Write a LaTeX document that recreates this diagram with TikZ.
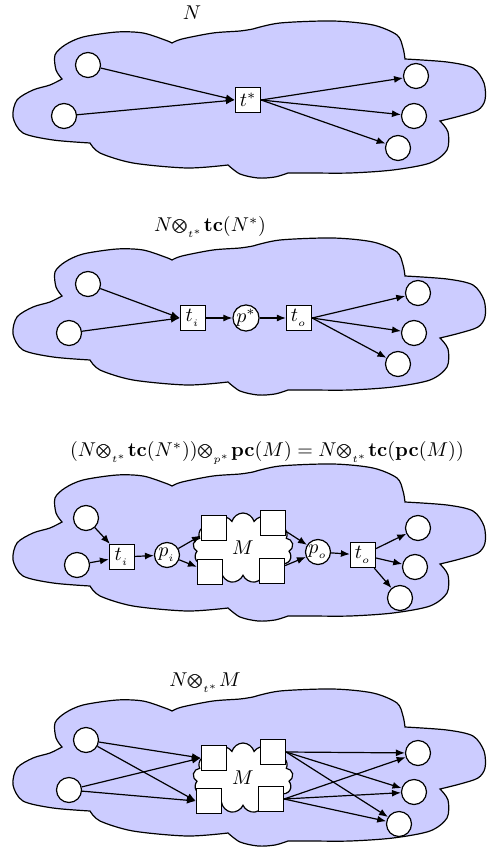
\documentclass[tikz,border=0pt]{standalone}
\usepackage{amsmath,amssymb}
\usepackage{tikz}
\usetikzlibrary{arrows.meta, shapes.symbols, positioning}

% outer net outline, drawn in the current scope
\newcommand{\netcloud}{%
  \filldraw[fill=blue!20]
    plot[smooth] coordinates {(62,79) (56,70) (55,55) (65,45) (83,37) (117,32) (143,33) (165,40) (172,43)}
    -- plot[smooth] coordinates {(172,43) (182,39) (213,33) (240,31) (253,29)}
    -- plot[smooth] coordinates {(253,29) (280,23) (333,21) (373,25) (397,35) (403,48) (405,59)}
    -- plot[smooth] coordinates {(405,59) (447,62) (473,68) (484,83) (485,100) (478,110) (460,116) (440,121)}
    -- plot[smooth] coordinates {(440,121) (448,132) (447,150) (430,163) (393,170) (350,173) (310,173) (288,173)}
    -- plot[smooth] coordinates {(288,173) (275,177) (258,178) (240,174) (228,165)}
    -- plot[smooth] coordinates {(228,165) (187,168) (133,163) (100,153) (90,143)}
    -- plot[smooth] coordinates {(90,143) (53,140) (23,133) (13,117) (17,100) (33,90) (50,85) (62,79)}
    -- cycle;}
\newcommand{\tens}{\mathord{\pmb{\otimes}}}

\begin{document}
\begin{tikzpicture}[x=0.5pt, y=-0.5pt, line width=0.6pt,
  place/.style={circle, draw, fill=white, minimum size=12.5pt, inner sep=0pt},
  trans/.style={rectangle, draw, fill=white, minimum size=12.5pt, inner sep=0pt},
  flow/.style={-{Latex[length=4.5pt, width=3.5pt]}},
  subnet/.style={cloud, draw, fill=white, cloud puffs=13, aspect=1.5, minimum width=50pt, minimum height=35pt, inner sep=0pt}]

\useasboundingbox (0,0) rectangle (491,849);

% N
\node (lblN) at (192,13) {$N$};
\begin{scope}
  \netcloud
  \node[place] (a1) at (88,65) {};
  \node[place] (a2) at (64,116) {};
  \node[trans] (ts) at (248,100) {$t^*$};
  \node[place] (b1) at (416,76) {};
  \node[place] (b2) at (414,116) {};
  \node[place] (b3) at (398,148) {};
  \draw[flow] (a1) -- (ts.west);
  \draw[flow] (a2) -- (ts.west);
  \foreach \b in {b1,b2,b3}
    \draw[flow] (ts.east) -- (\b);
\end{scope}

% N with t* refined
\node (lblTC) at (210,227) {$N\tens_{_{t^*}}\mathbf{tc}(N^*)$};
\begin{scope}[shift={(0,217)}]
  \netcloud
  \node[place] (c1) at (88,67) {};
  \node[place] (c2) at (69,116) {};
  \node[trans] (ti2) at (193,101) {$t_{_i}$};
  \node[place] (pst) at (246,101) {$p^*$};
  \node[trans] (to2) at (299,101) {$t_{_o}$};
  \node[place] (d1) at (418,76) {};
  \node[place] (d2) at (414,116) {};
  \node[place] (d3) at (398,147) {};
  \draw[flow] (c1) -- (ti2.west);
  \draw[flow] (c2) -- (ti2.west);
  \draw[flow] (ti2) -- (pst);
  \draw[flow] (pst) -- (to2);
  \foreach \d in {d1,d2,d3}
    \draw[flow] (to2.east) -- (\d);
\end{scope}

% p* replaced by pc(M)
\node (lblPC) at (267,453) {$(N\tens_{_{t^*}}\mathbf{tc}(N^*))\tens_{_{p^*}}\mathbf{pc}(M) = N\tens_{_{t^*}}\mathbf{tc}(\mathbf{pc}(M))$};
\begin{scope}[shift={(0,443)}]
  \netcloud
  \node[subnet] (m3) at (243,105) {$M$};
  \node[place] (e1) at (86,75) {};
  \node[place] (e2) at (77,122) {};
  \node[trans] (ti3) at (122,114) {$t_{_i}$};
  \node[place] (pi3) at (167,112) {$p_{_i}$};
  \node[trans] (mtl3) at (214,85) {};
  \node[trans] (mbl3) at (210,129) {};
  \node[trans] (mtr3) at (273,80) {};
  \node[trans] (mbr3) at (272,128) {};
  \node[place] (po3) at (318,109) {$p_{_o}$};
  \node[trans] (to3) at (363,112) {$t_{_o}$};
  \node[place] (f1) at (418,85) {};
  \node[place] (f2) at (415,124) {};
  \node[place] (f3) at (400,155) {};
  \draw[flow] (e1) -- (ti3);
  \draw[flow] (e2) -- (ti3);
  \draw[flow] (ti3) -- (pi3);
  \draw[flow] (pi3) -- (mtl3);
  \draw[flow] (pi3) -- (mbl3);
  \draw[flow] (mtr3) -- (po3);
  \draw[flow] (mbr3) -- (po3);
  \draw[flow] (po3) -- (to3);
  \foreach \f in {f1,f2,f3}
    \draw[flow] (to3) -- (\f);
\end{scope}

% N composed with M
\node (lblM) at (205,683) {$N\tens_{_{t^*}}M$};
\begin{scope}[shift={(0,668)}]
  \netcloud
  \node[subnet] (m4) at (243,110) {$M$};
  \node[place] (g1) at (86,72) {};
  \node[place] (g2) at (69,122) {};
  \node[trans] (mtl4) at (214,90) {};
  \node[trans] (mbl4) at (209,133) {};
  \node[trans] (mtr4) at (273,84) {};
  \node[trans] (mbr4) at (271,131) {};
  \node[place] (h1) at (418,85) {};
  \node[place] (h2) at (414,124) {};
  \node[place] (h3) at (399,156) {};
  \foreach \g in {g1,g2}
    \foreach \s in {mtl4,mbl4}
      \draw[flow] (\g) -- (\s.west);
  \foreach \h in {h1,h2,h3} {
    \draw[flow] (mtr4.east) -- (\h);
    \draw[flow] (mbr4.east) -- (\h);
  }
\end{scope}
\end{tikzpicture}
\end{document}
